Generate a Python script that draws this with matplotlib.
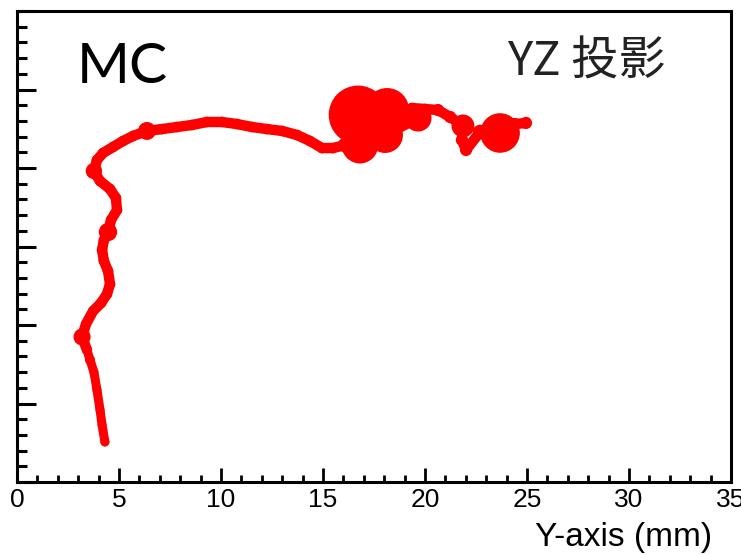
import matplotlib
matplotlib.use("Agg")
import matplotlib.pyplot as plt
import numpy as np
from matplotlib.ticker import MultipleLocator

# track points (mm) and local deposit radius (mm)
track_y = [4.31, 4.17, 4.07, 3.92, 3.77, 3.58, 3.43, 3.19, 3.38, 3.73,
           4.12, 4.41, 4.56, 4.46, 4.26, 4.17, 4.26, 4.46, 4.61, 4.90,
           4.85, 4.56, 4.07, 3.77, 3.92, 4.22, 4.71, 5.20, 5.69, 6.37,
           7.11, 7.84, 8.58, 9.31, 10.05, 10.78, 11.52, 12.25, 12.99, 13.73,
           14.36, 14.95, 15.49, 16.08, 16.81, 16.72, 18.14, 18.04, 19.66, 19.36,
           20.00, 20.64, 21.23, 21.86, 21.81, 22.01, 22.70, 23.68, 24.41, 24.95]
track_z = [2.55, 3.63, 4.59, 5.86, 7.01, 7.77, 8.41, 9.24, 10.06, 10.89,
           11.40, 11.97, 12.61, 13.44, 14.08, 14.78, 15.41, 15.92, 16.69, 17.32,
           18.09, 18.66, 19.17, 19.81, 20.51, 20.96, 21.34, 21.72, 22.04, 22.36,
           22.48, 22.61, 22.74, 22.93, 22.93, 22.80, 22.61, 22.48, 22.36, 22.10,
           21.72, 21.27, 21.27, 21.46, 21.46, 23.38, 23.69, 22.10, 23.18, 23.82,
           23.76, 23.69, 23.25, 22.68, 21.78, 21.15, 22.29, 22.23, 22.80, 22.87]
deposit_r = [0.22, 0.22, 0.22, 0.22, 0.22, 0.245, 0.245, 0.42, 0.245, 0.245,
             0.26, 0.26, 0.26, 0.26, 0.26, 0.26, 0.26, 0.45, 0.26, 0.26,
             0.26, 0.26, 0.26, 0.40, 0.26, 0.26, 0.26, 0.26, 0.26, 0.44,
             0.26, 0.26, 0.26, 0.26, 0.26, 0.26, 0.26, 0.26, 0.26, 0.26,
             0.26, 0.26, 0.26, 0.36, 0.90, 1.44, 1.08, 0.88, 0.66, 0.26,
             0.26, 0.30, 0.30, 0.56, 0.30, 0.30, 0.36, 0.97, 0.30, 0.30]

x_ticks = [0, 5, 10, 15, 20, 25, 30, 35]

dpi = 100
fig = plt.figure(figsize=(7.41, 5.55), dpi=dpi)
ax = fig.add_axes([17 / 741, 73 / 555, 714 / 741, 471 / 555])
ax.set_xlim(0, 35)
ax.set_ylim(0, 30)

# convert radius in mm to marker area in points^2
px_per_mm = ax.transData.transform((1, 0))[0] - ax.transData.transform((0, 0))[0]
diam_pt = 2 * np.array(deposit_r) * px_per_mm * 72 / dpi

ax.plot(track_y[:7], track_z[:7], color="#ff0000", lw=6.5, solid_capstyle="round",
        solid_joinstyle="round", zorder=2)
ax.plot(track_y[6:], track_z[6:], color="#ff0000", lw=7.5, solid_capstyle="round",
        solid_joinstyle="round", zorder=2)
ax.scatter(track_y, track_z, s=diam_pt ** 2, color="#ff0000", edgecolors="none", zorder=3)

ax.set_xticks(x_ticks)
ax.xaxis.set_minor_locator(MultipleLocator(1))
ax.yaxis.set_major_locator(MultipleLocator(5))
ax.yaxis.set_minor_locator(MultipleLocator(1))
ax.set_yticklabels([])
ax.tick_params(axis="x", which="major", direction="in", length=10, width=2, labelsize=19, pad=4)
ax.tick_params(axis="x", which="minor", direction="in", length=5, width=2)
ax.tick_params(axis="y", which="major", direction="in", length=14, width=2.2)
ax.tick_params(axis="y", which="minor", direction="in", length=7, width=2.2)
for lab in ax.get_xticklabels():
    lab.set_family(["Liberation Sans Narrow", "Liberation Sans"])
for sp in ax.spines.values():
    sp.set_linewidth(2.2)

ax.text(0.084, 0.847, "MC", transform=ax.transAxes, fontsize=41, family="Lato",
        va="baseline", ha="left")
ax.text(0.686, 0.862, "YZ 投影", transform=ax.transAxes, fontsize=34,
        family=["Noto Sans CJK SC", "DejaVu Sans"], va="baseline", ha="left", color="#222222")
fig.text(712 / 741, 9 / 555, "Y-axis (mm)", fontsize=24, family="Liberation Sans",
         ha="right", va="baseline")

fig.savefig("out.png", dpi=dpi)
